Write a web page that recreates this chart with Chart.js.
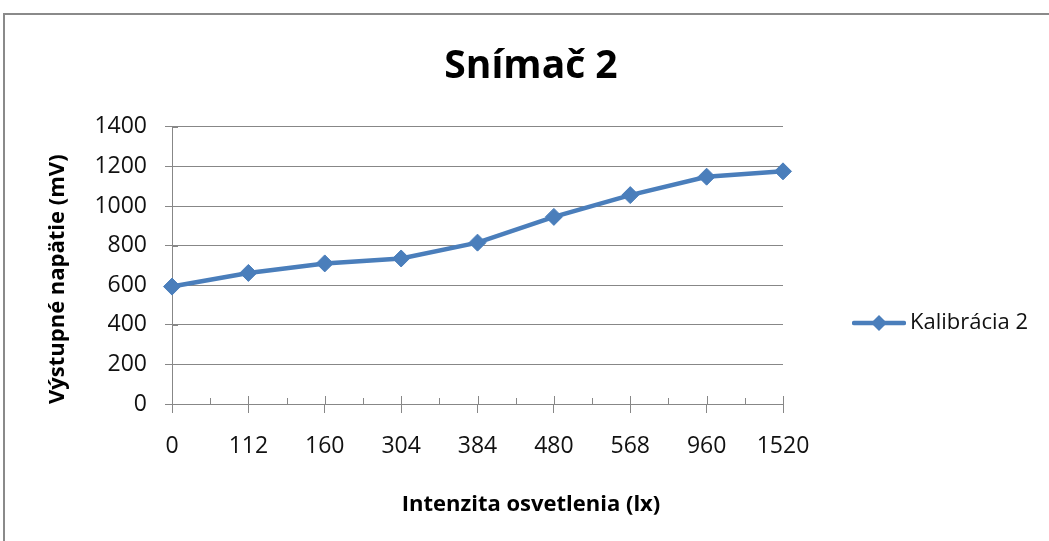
<!DOCTYPE html>
<html>
<head>
<meta charset="utf-8">
<script src="https://cdn.jsdelivr.net/npm/chart.js@4.4.1/dist/chart.umd.min.js"></script>
<style>
  html, body { margin: 0; padding: 0; background: #ffffff; }
  #wrap { position: relative; width: 1049px; height: 541px; overflow: hidden; }
  #frame { position: absolute; left: 3px; top: 13px; width: 1100px; height: 600px;
           border-top: 2px solid #8a8a8a; border-left: 2px solid #8a8a8a; }
  canvas { position: absolute; left: 0; top: 0; }
</style>
</head>
<body>
<div id="wrap">
  <div id="frame"></div>
  <canvas id="chart" width="1049" height="541"></canvas>
</div>
<script>
// Data
const categories = ['0', '112', '160', '304', '384', '480', '568', '960', '1520'];
const kalibracia2 = [593, 662, 710, 735, 815, 945, 1055, 1148, 1175];
const yTicks = [0, 200, 400, 600, 800, 1000, 1200, 1400];

const seriesName = 'Kalibrácia 2';
const chartTitle = 'Snímač 2';
const xTitle = 'Intenzita osvetlenia (lx)';
const yTitle = 'Výstupné napätie (mV)';

// Styling
const SERIES_COLOR = '#4a7ebb';
const AXIS_COLOR = '#878787';
const TEXT_COLOR = '#111111';
const FONT = "'Open Sans', sans-serif";

Chart.defaults.font.family = FONT;
Chart.defaults.color = TEXT_COLOR;

// Legend symbol: line with a diamond marker
function legendSymbol() {
  const c = document.createElement('canvas');
  c.width = 54; c.height = 20;
  const g = c.getContext('2d');
  g.strokeStyle = SERIES_COLOR;
  g.lineWidth = 4.5;
  g.lineCap = 'round';
  g.beginPath(); g.moveTo(2, 10); g.lineTo(52, 10); g.stroke();
  g.fillStyle = SERIES_COLOR;
  g.beginPath();
  g.moveTo(27, 2); g.lineTo(35, 10); g.lineTo(27, 18); g.lineTo(19, 10);
  g.closePath(); g.fill();
  return c;
}

// Tick marks reaching into the plot area (major + minor on x, major on y)
const innerTicks = {
  id: 'innerTicks',
  beforeDatasetsDraw(chart) {
    const { ctx, scales: { x, y } } = chart;
    const base = Math.round(y.getPixelForValue(yTicks[0]));
    ctx.save();
    ctx.strokeStyle = AXIS_COLOR;
    ctx.lineWidth = 1;
    ctx.beginPath();
    categories.forEach((_, i) => {
      const px = Math.round(x.getPixelForValue(i)) + 0.5;
      ctx.moveTo(px, base - 8); ctx.lineTo(px, base);
      if (i < categories.length - 1) {
        const mx = Math.round(x.getPixelForValue(i + 0.5)) + 0.5;
        ctx.moveTo(mx, base - 6); ctx.lineTo(mx, base);
      }
    });
    const left = Math.round(x.left);
    yTicks.forEach(v => {
      const py = Math.round(y.getPixelForValue(v)) + 0.5;
      ctx.moveTo(left, py); ctx.lineTo(left + 6, py);
    });
    ctx.stroke();
    ctx.restore();
  }
};

// Legend box: fixed width on the right, vertically placed beside the plot
const LEGEND_WIDTH = 266;
const LEGEND_CENTER_Y = 323;
const legendPlacement = {
  id: 'legendPlacement',
  beforeLayout(chart) {
    const lg = chart.legend;
    if (lg && !lg.__fixedWidth) {
      const fit = lg.fit;
      lg.fit = function () { fit.call(this); this.width = LEGEND_WIDTH; };
      lg.__fixedWidth = true;
    }
  },
  afterUpdate(chart) {
    const lg = chart.legend;
    if (!lg || !lg.legendHitBoxes || !lg.legendHitBoxes.length) return;
    const hb = lg.legendHitBoxes[0];
    const dy = LEGEND_CENTER_Y - (hb.top + hb.height / 2);
    lg.top += dy; lg.bottom += dy;
    lg.adjustHitBoxes();
  }
};

new Chart(document.getElementById('chart'), {
  type: 'line',
  data: {
    labels: categories,
    datasets: [{
      label: seriesName,
      data: kalibracia2,
      borderColor: SERIES_COLOR,
      backgroundColor: SERIES_COLOR,
      borderWidth: 4.5,
      pointStyle: 'rectRot',
      pointRadius: 8.5,
      pointHoverRadius: 8.5,
      pointBorderWidth: 1,
      pointBackgroundColor: SERIES_COLOR,
      pointBorderColor: SERIES_COLOR,
      tension: 0,
      clip: false
    }]
  },
  options: {
    responsive: false,
    animation: false,
    events: [],
    layout: { padding: { top: 13, left: 13, right: 0, bottom: 0 } },
    plugins: {
      title: {
        display: true,
        text: chartTitle,
        color: '#000000',
        font: { size: 39, weight: 'bold', family: FONT, lineHeight: 1.2 },
        padding: { top: 30, bottom: 37 }
      },
      // x-axis caption, centred across the whole chart box
      subtitle: {
        display: true,
        position: 'bottom',
        text: xTitle,
        color: '#000000',
        font: { size: 22, weight: 'bold', family: FONT, lineHeight: 1.2 },
        padding: { top: 0, bottom: 23 }
      },
      legend: {
        display: true,
        position: 'right',
        labels: {
          usePointStyle: true,
          pointStyle: legendSymbol(),
          pointStyleWidth: 40,
          padding: 76,
          color: TEXT_COLOR,
          font: { size: 22, family: FONT }
        }
      },
      tooltip: { enabled: false }
    },
    scales: {
      x: {
        type: 'category',
        offset: false,
        afterFit(scale) { scale.height = 87.6; },
        grid: {
          display: true,
          drawOnChartArea: false,
          drawTicks: true,
          tickLength: 9,
          color: AXIS_COLOR,
          lineWidth: 1
        },
        border: { display: true, color: AXIS_COLOR, width: 1 },
        ticks: {
          autoSkip: false,
          maxRotation: 0,
          padding: 20,
          color: TEXT_COLOR,
          font: { size: 23, family: FONT }
        },
        title: { display: false }
      },
      y: {
        min: yTicks[0],
        max: yTicks[yTicks.length - 1],
        afterFit(scale) { scale.width = 159; },
        grid: {
          display: true,
          drawOnChartArea: true,
          drawTicks: true,
          tickLength: 7,
          color: AXIS_COLOR,
          lineWidth: 1
        },
        border: { display: true, color: AXIS_COLOR, width: 1 },
        ticks: {
          stepSize: yTicks[1] - yTicks[0],
          padding: 18,
          color: TEXT_COLOR,
          font: { size: 23, family: FONT },
          callback: v => String(v)
        },
        title: {
          display: true,
          text: yTitle,
          align: 'start',
          color: '#000000',
          font: { size: 22, weight: 'bold', family: FONT, lineHeight: 1.2 },
          padding: { top: 32, bottom: 0 }
        }
      }
    }
  },
  plugins: [innerTicks, legendPlacement]
});
</script>
</body>
</html>
